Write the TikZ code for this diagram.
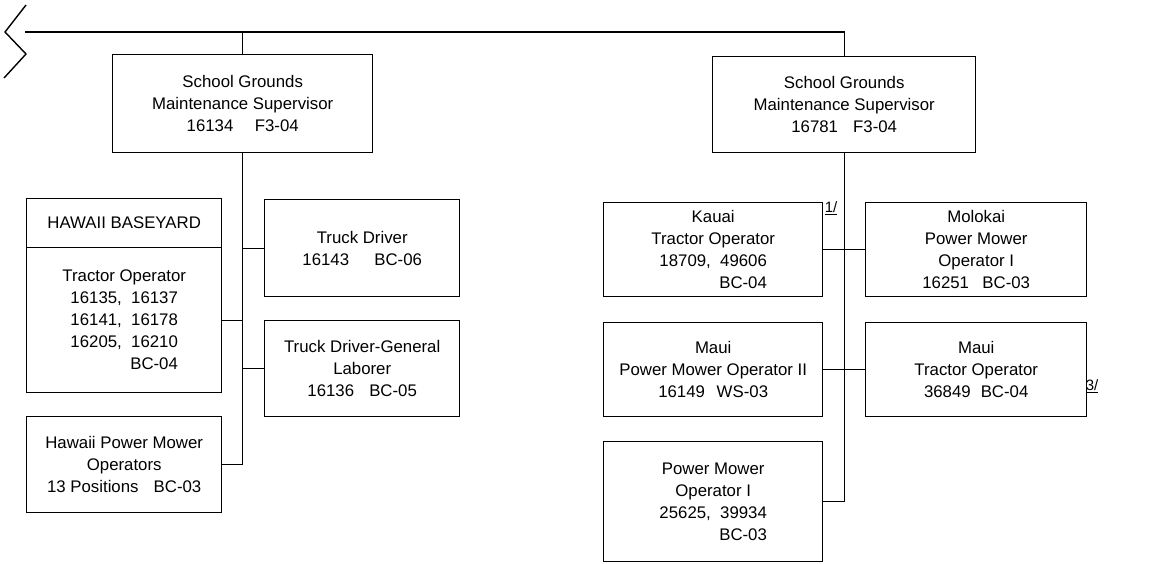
\documentclass[tikz,border=0pt]{standalone}
\usepackage{fontspec}
\usepackage{calc}
\setmainfont{Liberation Sans}
\newcommand{\rgt}[2]{\makebox[\widthof{#1}][r]{#2}}
\tikzset{
  post/.style={draw, line width=1.4pt, align=center, inner sep=0pt, anchor=north west,
    font=\fontsize{16.8}{22}\selectfont},
  link/.style={line width=1.4pt},
  note/.style={inner sep=0pt, font=\fontsize{15}{18}\selectfont}
}
\begin{document}
\begin{tikzpicture}[x=1pt,y=-1pt]
\useasboundingbox (0,0) rectangle (1156,563);
\draw[link] (26,5) -- (5,32) -- (26,54) -- (4,78);
\coordinate (brk) at (25,32);
\node[post, minimum width=260pt, minimum height=98pt] (lsup) at (112,54)
  {School Grounds\\Maintenance Supervisor\\16134 \quad F3-04};
\node[post, minimum width=263pt, minimum height=96pt] (rsup) at (712,56)
  {School Grounds\\Maintenance Supervisor\\16781\hspace{0.9em}F3-04};
\node[post, minimum width=195pt, minimum height=49pt] (byard) at (26,198) {HAWAII BASEYARD};
\node[post, minimum width=195pt, minimum height=145pt] (trop) at (26,247)
  {Tractor Operator\\16135,~~16137\\16141,~~16178\\16205,~~16210\\\rgt{16205,~~16210}{BC-04}};
\node[post, minimum width=195pt, minimum height=96pt] (hpm) at (26,416)
  {Hawaii Power Mower\\Operators\\13 Positions\hspace{0.9em}BC-03};
\node[post, minimum width=195pt, minimum height=97pt] (tdrv) at (264,199)
  {Truck Driver\\16143\hspace{1.5em}BC-06};
\node[post, minimum width=195pt, minimum height=96pt] (tdgl) at (264,320)
  {Truck Driver-General\\Laborer\\16136\hspace{0.9em}BC-05};
\node[post, minimum width=219pt, minimum height=94pt] (kauai) at (603,202)
  {Kauai\\Tractor Operator\\18709,~~49606\\\rgt{18709,~~49606}{BC-04}};
\node[post, minimum width=221pt, minimum height=94pt] (molo) at (865,202)
  {Molokai\\Power Mower\\Operator I\\16251\hspace{0.8em}BC-03};
\node[post, minimum width=219pt, minimum height=94pt] (mpmo) at (603,322)
  {Maui\\Power Mower Operator II\\16149\hspace{0.7em}WS-03};
\node[post, minimum width=221pt, minimum height=94pt] (mtro) at (865,322)
  {Maui\\Tractor Operator\\36849\hspace{0.6em}BC-04};
\node[post, minimum width=219pt, minimum height=120pt] (pmo) at (603,441)
  {Power Mower\\Operator I\\25625,~~39934\\\rgt{25625,~~39934}{BC-03}};
\node[note] (n1) at (831,208) {\underline{1/}};
\node[note] (n3) at (1092,386) {\underline{3/}};
\draw[link] (brk) -| (rsup.north);
\draw[link] (lsup.north) -- (lsup.north |- brk);
\draw[link] (lsup.south) -- (lsup.south |- hpm.east) -- (hpm.east);
\draw[link] (trop.east) -- (lsup.south |- trop.east);
\draw[link] (tdrv.west) -- (lsup.south |- tdrv.west);
\draw[link] (tdgl.west) -- (lsup.south |- tdgl.west);
\draw[link] (rsup.south) -- (rsup.south |- pmo.east) -- (pmo.east);
\draw[link] (kauai.east) -- (molo.west);
\draw[link] (mpmo.east) -- (mtro.west);
\end{tikzpicture}
\end{document}
